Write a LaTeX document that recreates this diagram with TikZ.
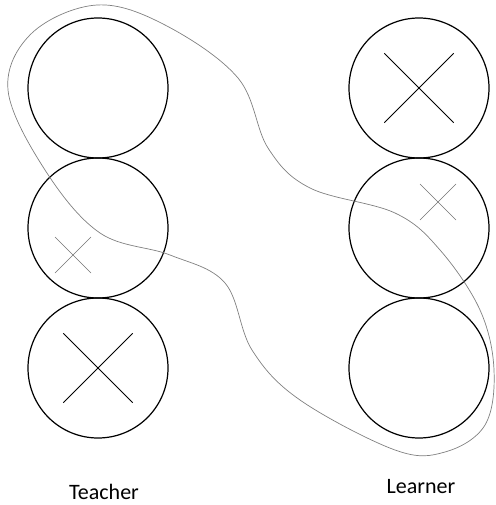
\documentclass[tikz,border=0pt]{standalone}
\usepackage{fontspec}
\setmainfont{Carlito}
\usetikzlibrary{positioning,calc}
\tikzset{
  unit/.style={circle,draw=black,line width=1.2pt,minimum size=140pt,inner sep=0pt,outer sep=0pt},
  bigcross/.style={draw=black,line width=1pt},
  smallcross/.style={draw=black!55,line width=0.6pt},
  group/.style={draw=black!50,line width=0.7pt},
  role/.style={font=\fontsize{22}{26}\selectfont,inner sep=0pt},
}

\begin{document}
\begin{tikzpicture}[x=1pt,y=-1pt]
\useasboundingbox (0,0) rectangle (495,505);
% teacher column
\node[unit] (t1) at (98,88) {};
\node[unit,below=0pt of t1] (t2) {};
\node[unit,below=0pt of t2] (t3) {};
% learner column
\node[unit] (l1) at (419,88) {};
\node[unit,below=0pt of l1] (l2) {};
\node[unit,below=0pt of l2] (l3) {};
% big crosses
\draw[bigcross] ($(l1)!0.7!(l1.north west)$) -- ($(l1)!0.7!(l1.south east)$);
\draw[bigcross] ($(l1)!0.7!(l1.south west)$) -- ($(l1)!0.7!(l1.north east)$);
\draw[bigcross] ($(t3)!0.7!(t3.north west)$) -- ($(t3)!0.7!(t3.south east)$);
\draw[bigcross] ($(t3)!0.7!(t3.south west)$) -- ($(t3)!0.7!(t3.north east)$);
% small crosses
\coordinate (tx) at ($(t2)+(-25,27)$);
\coordinate (lx) at ($(l2)+(19,-26)$);
\draw[smallcross] ($(tx)+(-18,-18)$) -- ($(tx)+(18,18)$);
\draw[smallcross] ($(tx)+(-18,18)$) -- ($(tx)+(18,-18)$);
\draw[smallcross] ($(lx)+(-18,-18)$) -- ($(lx)+(18,18)$);
\draw[smallcross] ($(lx)+(-18,18)$) -- ($(lx)+(18,-18)$);
% enclosing loop
\draw[group] plot[smooth cycle,tension=0.6] coordinates {
  (8,90) (32,33) (97,5) (165,25) (238,78) (268,148) (310,188) (395,213)
  (440,250) (480,310) (494,370) (485,425) (445,452) (395,450) (300,400)
  (252,350) (225,283) (170,255) (100,233) (45,170)};
% labels
\node[role,below=46pt of t3,xshift=6pt] (teacher) {Teacher};
\node[role,below=41pt of l3,xshift=2pt] (learner) {Learner};
\end{tikzpicture}
\end{document}
